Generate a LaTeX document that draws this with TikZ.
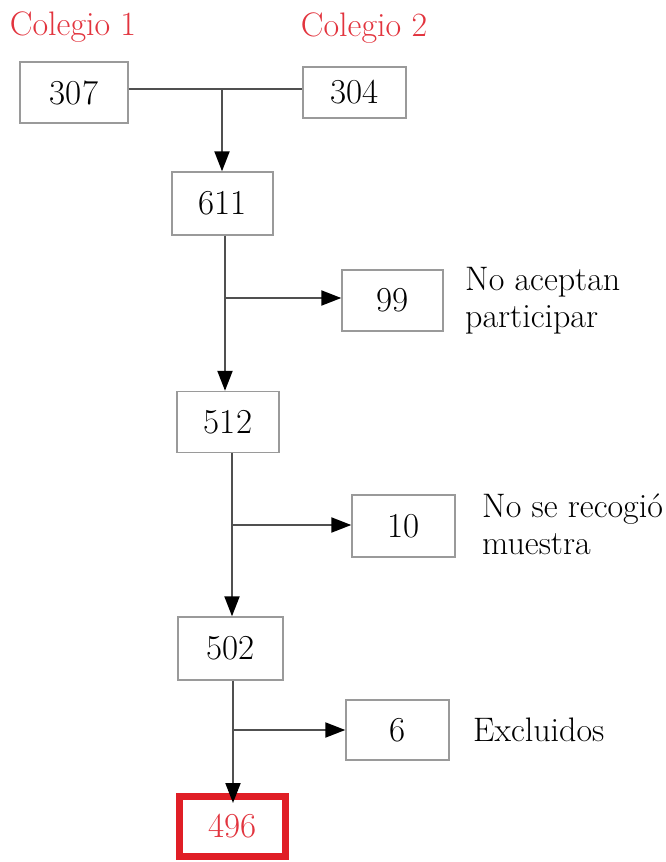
\documentclass[tikz,border=0pt]{standalone}
\usetikzlibrary{arrows.meta}
\definecolor{linegray}{HTML}{505050}
\definecolor{boxgray}{HTML}{9A9A9A}
\definecolor{redtxt}{HTML}{E2343E}
\definecolor{redbox}{HTML}{E01E26}
\begin{document}
\begin{tikzpicture}[x=1pt,y=-1pt,
  numbox/.style={draw=boxgray,line width=1.4pt,fill=white,inner sep=0pt,font=\fontsize{35}{40}\selectfont},
  conn/.style={draw=linegray,line width=2pt},
  arr/.style={conn,-{Triangle[length=20pt,width=15pt,fill=black,color=black]}},
  side/.style={align=left,anchor=west,inner sep=0pt,font=\fontsize{34}{37}\selectfont},
  lab/.style={text=redtxt,inner sep=0pt,font=\fontsize{34}{40}\selectfont}]
\useasboundingbox (0,0) rectangle (666,862);
\node[lab] (l1) at (73,27) {Colegio 1};
\node[lab] (l2) at (364,28) {Colegio 2};
\node[numbox,minimum width=108pt,minimum height=61pt] (c307) at (74,92.5) {307};
\node[numbox,minimum width=103pt,minimum height=51pt] (c304) at (354.5,92.5) {304};
\node[numbox,minimum width=101pt,minimum height=63pt] (n611) at (222.5,203.5) {611};
\node[numbox,minimum width=101pt,minimum height=61pt] (n99) at (392.5,300.5) {99};
\node[numbox,minimum width=102pt,minimum height=61pt] (n512) at (228,422) {512};
\node[numbox,minimum width=103pt,minimum height=62pt] (n10) at (403.5,526) {10};
\node[numbox,minimum width=105pt,minimum height=63pt] (n502) at (230.5,648.5) {502};
\node[numbox,minimum width=103pt,minimum height=60pt] (n6) at (397.5,730) {6};
\node[numbox,draw=redbox,line width=7pt,text=redtxt,minimum width=106pt,minimum height=60pt] (n496) at (232.5,826.5) {496};
\node[side] (t99) at (465,301) {No aceptan\\participar};
\node[side] (t10) at (482,524) {No se recogió\\muestra};
\node[side] (t6) at (473,730) {Excluidos};
\coordinate (j1) at (222,89);
\coordinate (j2) at (225,298);
\coordinate (j3) at (232,525);
\coordinate (j4) at (233,730);
\draw[conn] (c307.east |- j1) -- (c304.west |- j1);
\draw[arr] (j1) -- (j1 |- n611.north);
\draw[arr] (j2 |- n611.south) -- (j2 |- n512.north);
\draw[arr] (j2) -- (j2 -| n99.west);
\draw[arr] (j3 |- n512.south) -- (j3 |- n502.north);
\draw[arr] (j3) -- (j3 -| n10.west);
\draw[arr] (j4 |- n502.south) -- ([yshift=-10pt]j4 |- n496.north);
\draw[arr] (j4) -- (j4 -| n6.west);
\end{tikzpicture}
\end{document}
